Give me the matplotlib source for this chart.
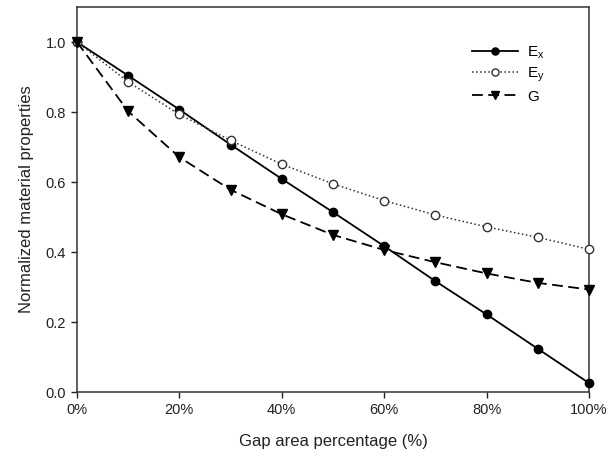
import numpy as np
import matplotlib
matplotlib.use("Agg")
import matplotlib.pyplot as plt
from matplotlib.ticker import FuncFormatter

plt.rcParams['font.family'] = ['Liberation Sans', 'DejaVu Sans']

# 数据
gap = [0, 10, 20, 30, 40, 50, 60, 70, 80, 90, 100]
Ex = [1.0, 0.904, 0.807, 0.707, 0.609, 0.514, 0.417, 0.317, 0.222, 0.124, 0.026]
Ey = [1.0, 0.886, 0.793, 0.719, 0.651, 0.595, 0.547, 0.506, 0.472, 0.442, 0.408]
G = [1.0, 0.802, 0.671, 0.578, 0.508, 0.449, 0.406, 0.371, 0.339, 0.312, 0.293]
x_ticks = [0, 20, 40, 60, 80, 100]
y_ticks = [0.0, 0.2, 0.4, 0.6, 0.8, 1.0]

fig = plt.figure(figsize=(6.09, 4.57), dpi=100)
ax = fig.add_axes([0.1264, 0.142, 0.8406, 0.8427])

ax.plot(gap, Ex, '-', color='black', lw=1.3, marker='o', ms=6,
        mfc='black', mec='black', label=r'E$_\mathregular{x}$', clip_on=False, zorder=3)
ax.plot(gap, Ey, ':', color='#333333', lw=1.1, marker='o', ms=6,
        mfc='white', mec='#333333', label=r'E$_\mathregular{y}$', clip_on=False, zorder=3)
ax.plot(gap, G, '--', color='black', lw=1.3, marker='v', ms=6.5,
        mfc='black', mec='black', dashes=(6, 3), label='G', clip_on=False, zorder=3)

ax.set_xlim(0, 100)
ax.set_ylim(0, 1.1)
ax.set_xticks(x_ticks)
ax.set_yticks(y_ticks)
ax.xaxis.set_major_formatter(FuncFormatter(lambda v, p: f"{int(v)}%"))
ax.yaxis.set_major_formatter(FuncFormatter(lambda v, p: f"{v:.1f}"))
ax.tick_params(direction='out', length=4, width=1, labelsize=10.5,
               colors='#222222', pad=4)
for s in ax.spines.values():
    s.set_color('#333333')
    s.set_linewidth(1.1)

ax.set_xlabel('Gap area percentage (%)', fontsize=12, labelpad=12, color='#222222')
ax.set_ylabel('Normalized material properties', fontsize=12, labelpad=8, color='#222222')

ax.legend(loc='upper right', bbox_to_anchor=(0.94, 0.94), frameon=False,
          fontsize=11, handlelength=3.0, labelspacing=0.35, handletextpad=0.6,
          markerscale=0.85)

fig.savefig('out.png', dpi=100)
